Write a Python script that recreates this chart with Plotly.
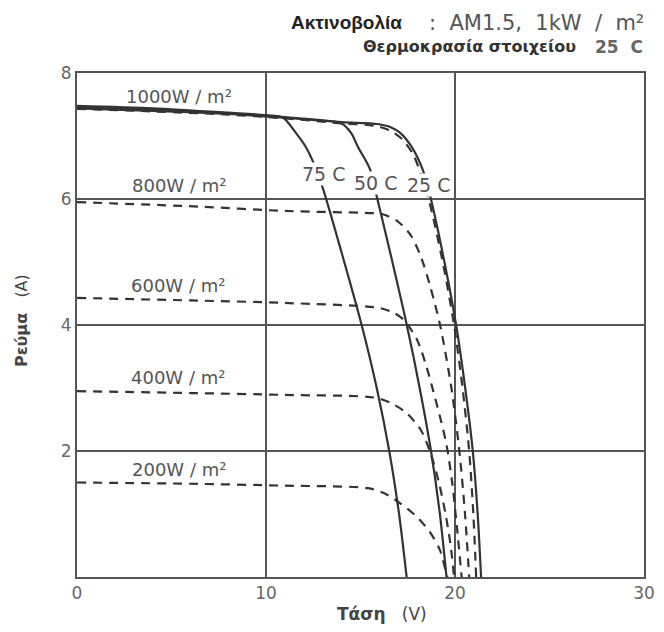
import plotly.graph_objects as go

# I-V characteristics of a PV module: 1000 W/m² at three cell temperatures (solid)
# and 25 C curves at decreasing irradiance (dashed). Voltage in V, current in A.
v_1000_25 = [0, 4, 8, 11, 14, 15.9, 16.6, 17.1, 17.7, 18.3, 18.7, 19.44, 20.06, 20.54, 20.94, 21.2, 21.38]
i_1000_25 = [7.44, 7.40, 7.35, 7.29, 7.22, 7.19, 7.14, 7.05, 6.83, 6.46, 6.03, 5.0, 4.0, 3.0, 2.0, 1.0, 0]

v_1000_50 = [0, 4, 8, 11, 13.0, 14.0, 14.5, 14.86, 15.48, 15.82, 16.61, 17.45, 18.13, 18.73, 19.2, 19.55]
i_1000_50 = [7.46, 7.42, 7.36, 7.30, 7.25, 7.20, 7.05, 6.83, 6.49, 6.09, 5.10, 4.0, 3.0, 2.0, 1.0, 0]

v_1000_75 = [0, 4, 8, 10, 10.9, 11.58, 12.1, 12.52, 12.99, 14.0, 15.06, 15.86, 16.52, 17.04, 17.44]
i_1000_75 = [7.48, 7.44, 7.37, 7.33, 7.29, 7.05, 6.83, 6.57, 6.19, 5.15, 4.0, 3.0, 2.0, 1.0, 0]

v_1000 = [0, 4, 8, 11, 14, 15.8, 16.6, 17.2, 17.8, 18.3, 18.65, 19.35, 19.95, 20.4, 20.75, 20.97, 21.12]
i_1000 = [7.43, 7.39, 7.34, 7.28, 7.20, 7.16, 7.08, 6.95, 6.70, 6.30, 5.95, 5.0, 4.0, 3.0, 2.0, 1.0, 0]

v_800 = [0, 6.4, 11, 15.9, 16.26, 16.95, 17.65, 18.2, 18.7, 19.21, 19.81, 20.23, 20.53, 20.75]
i_800 = [5.95, 5.88, 5.81, 5.77, 5.75, 5.65, 5.43, 5.08, 4.60, 4.0, 3.0, 2.0, 1.0, 0]

v_600 = [0, 6, 11, 16.0, 16.78, 17.3, 18.0, 18.5, 18.85, 19.2, 19.55, 19.85, 20.1, 20.35]
i_600 = [4.43, 4.39, 4.35, 4.27, 4.19, 4.08, 3.76, 3.33, 2.95, 2.55, 2.10, 1.50, 0.80, 0]

v_400 = [0, 6, 11, 15.9, 16.8, 17.45, 18.2, 18.7, 19.15, 19.5, 19.77, 19.95]
i_400 = [2.95, 2.92, 2.89, 2.84, 2.73, 2.60, 2.33, 1.97, 1.50, 1.0, 0.5, 0]

v_200 = [0, 6, 11, 15.4, 16.26, 17.1, 18.0, 18.7, 19.2, 19.5, 19.6]
i_200 = [1.50, 1.48, 1.45, 1.41, 1.33, 1.17, 0.95, 0.70, 0.43, 0.11, 0]

x_ticks = [0, 10, 20, 30]
y_ticks = [2, 4, 6, 8]

irradiance_labels = ["1000W / m²", "800W / m²", "600W / m²", "400W / m²", "200W / m²"]
irradiance_label_pos = [(5.4, 7.62), (5.4, 6.21), (5.35, 4.63), (5.35, 3.16), (5.4, 1.70)]
temperature_labels = ["75 C", "50 C", "25 C"]
temperature_label_pos = [(13.05, 6.40), (15.8, 6.25), (18.6, 6.22)]

INK = "#333333"
GRID = "#555555"
TEXT = "#555555"
FONT = "DejaVu Sans"

W, H = 664, 632
ML, MR, MT, MB = 77, 9, 73, 55
PW, PH = W - ML - MR, H - MT - MB


def px(x, y):
    """Pixel position -> paper coordinates."""
    return (x - ML) / PW, (H - MB - y) / PH


fig = go.Figure()

solid = dict(color=INK, width=2.2, shape="spline", smoothing=0.8)
dashed = dict(color=INK, width=2.2, dash="9px,7px", shape="spline", smoothing=0.8)

for v, i in [(v_1000_75, i_1000_75), (v_1000_50, i_1000_50), (v_1000_25, i_1000_25)]:
    fig.add_trace(go.Scatter(x=v, y=i, mode="lines", line=solid, hoverinfo="skip"))
for v, i in [(v_1000, i_1000), (v_800, i_800), (v_600, i_600), (v_400, i_400), (v_200, i_200)]:
    fig.add_trace(go.Scatter(x=v, y=i, mode="lines", line=dashed, hoverinfo="skip"))

annotations = []
for text, (x, y) in zip(irradiance_labels, irradiance_label_pos):
    annotations.append(dict(x=x, y=y, xref="x", yref="y", text=text, showarrow=False,
                            font=dict(family=FONT, size=18, color=TEXT)))
for text, (x, y) in zip(temperature_labels, temperature_label_pos):
    annotations.append(dict(x=x, y=y, xref="x", yref="y", text=text, showarrow=False,
                            bgcolor="white", borderpad=0,
                            font=dict(family=FONT, size=19, color=TEXT)))

# header block
hx, hy = px(410, 23)
annotations.append(dict(x=hx, y=hy, xref="paper", yref="paper", xanchor="right", yanchor="middle",
                        text="<b>Ακτινοβολία</b>", showarrow=False,
                        font=dict(family="Liberation Sans", size=19, color="#222222")))
hx, hy = px(657, 23)
annotations.append(dict(x=hx, y=hy, xref="paper", yref="paper", xanchor="right", yanchor="middle",
                        text=":\u00a0 AM1.5,\u00a0 1kW\u00a0 /\u00a0 m²", showarrow=False,
                        font=dict(family=FONT, size=21, color="#555555")))
hx, hy = px(588, 47)
annotations.append(dict(x=hx, y=hy, xref="paper", yref="paper", xanchor="right", yanchor="middle",
                        text="<b>Θερμοκρασία στοιχείου</b>", showarrow=False,
                        font=dict(family=FONT, size=16, color="#333333")))
hx, hy = px(656, 47)
annotations.append(dict(x=hx, y=hy, xref="paper", yref="paper", xanchor="right", yanchor="middle",
                        text="<b>25\u00a0 C</b>", showarrow=False,
                        font=dict(family=FONT, size=17, color="#666666")))

# axis titles
tx, ty = px(388, 614)
annotations.append(dict(x=tx, y=ty, xref="paper", yref="paper", xanchor="center", yanchor="middle",
                        text="<b>Τάση</b>\u00a0\u00a0 (V)", showarrow=False,
                        font=dict(family=FONT, size=17, color="#444444")))
tx, ty = px(20, 321)
annotations.append(dict(x=tx, y=ty, xref="paper", yref="paper", xanchor="center", yanchor="middle",
                        text="<b>Ρεύμα</b>\u00a0\u00a0 (A)", showarrow=False, textangle=-90,
                        font=dict(family=FONT, size=16, color="#444444")))

axis_common = dict(showline=True, mirror=True, linecolor=GRID, linewidth=2,
                   showgrid=True, gridcolor=GRID, gridwidth=2, zeroline=False,
                   ticks="", tickfont=dict(family=FONT, size=17, color="#666666"))

fig.update_layout(
    width=W, height=H,
    margin=dict(l=ML, r=MR, t=MT, b=MB),
    paper_bgcolor="white", plot_bgcolor="white",
    showlegend=False,
    xaxis=dict(range=[0, 30], tickvals=x_ticks, **axis_common),
    yaxis=dict(range=[0, 8], tickvals=y_ticks, **axis_common),
    annotations=annotations,
)

fig.write_html("out.html")
